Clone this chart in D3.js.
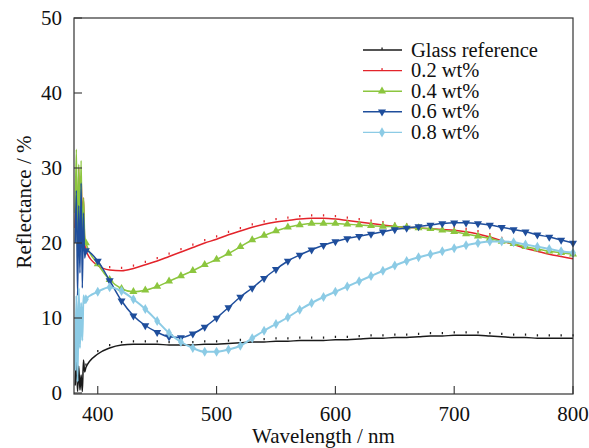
<!DOCTYPE html>
<html>
  <head>
    <style>
    body { margin: 0; background: #fff; }
    </style>
  </head>
  <body>

    <svg width="589" height="448" font-family="'Liberation Serif', 'DejaVu Serif', serif"></svg>

    <script src="https://cdn.jsdelivr.net/npm/d3@7/dist/d3.min.js"></script>
    <script>

      // wavelength grid for the smooth part of the spectra (nm)
      const wavelengths = [390, 400, 410, 420, 430, 440, 450, 460, 470, 480, 490, 500, 510, 520,
        530, 540, 550, 560, 570, 580, 590, 600, 610, 620, 630, 640, 650, 660, 670, 680, 690,
        700, 710, 720, 730, 740, 750, 760, 770, 780, 790, 800]

      const glass = [3.4, 5.2, 6.0, 6.4, 6.5, 6.5, 6.5, 6.4, 6.4, 6.4, 6.5, 6.5, 6.6, 6.7,
        6.8, 6.8, 6.9, 6.9, 7.0, 7.0, 7.0, 7.1, 7.1, 7.2, 7.3, 7.3, 7.4, 7.4, 7.5, 7.6, 7.6,
        7.7, 7.7, 7.7, 7.6, 7.5, 7.4, 7.4, 7.3, 7.3, 7.3, 7.3]
      const wt02 = [19.0, 17.0, 16.4, 16.3, 16.6, 17.1, 17.6, 18.2, 18.8, 19.4, 20.0, 20.5, 21.1, 21.6,
        22.1, 22.5, 22.8, 23.0, 23.2, 23.3, 23.3, 23.2, 23.0, 22.8, 22.6, 22.4, 22.2, 22.1, 22.0, 21.9, 21.8,
        21.7, 21.5, 21.2, 20.8, 20.3, 19.8, 19.3, 18.9, 18.5, 18.2, 17.9]
      const wt04 = [20.0, 17.2, 15.1, 13.9, 13.5, 13.7, 14.2, 14.9, 15.6, 16.3, 17.1, 17.8, 18.6, 19.5,
        20.4, 21.0, 21.6, 22.1, 22.4, 22.6, 22.6, 22.6, 22.5, 22.4, 22.3, 22.2, 22.2, 22.1, 22.0, 21.9, 21.7,
        21.5, 21.2, 20.9, 20.6, 20.2, 19.9, 19.5, 19.2, 18.9, 18.7, 18.5]
      const wt06 = [19.0, 17.6, 15.0, 12.3, 10.3, 9.0, 8.1, 7.5, 7.4, 7.9, 8.8, 10.0, 11.4, 12.8,
        14.0, 15.3, 16.5, 17.6, 18.4, 19.1, 19.7, 20.2, 20.6, 20.9, 21.2, 21.5, 21.8, 22.0, 22.2, 22.4, 22.6,
        22.7, 22.7, 22.6, 22.4, 22.1, 21.8, 21.5, 21.1, 20.8, 20.4, 20.0]
      const wt08 = [12.5, 13.5, 14.1, 13.6, 12.5, 11.2, 9.6, 8.0, 6.8, 6.0, 5.5, 5.5, 5.8, 6.3,
        7.3, 8.3, 9.2, 10.1, 11.1, 12.0, 12.8, 13.5, 14.2, 14.9, 15.6, 16.3, 17.0, 17.6, 18.1, 18.5, 18.9,
        19.3, 19.7, 20.0, 20.2, 20.2, 20.1, 19.8, 19.5, 19.2, 18.9, 18.7]

      // noisy detector start-up region
      const noiseWl = [381, 382, 383, 384, 385, 386, 387, 388, 389]
      const glassNoise = [1.0, 4.5, 0.2, 3.6, 0.4, 2.4, 0.2, 4.4, 2.8]
      const wt02Noise = [22, 28.5, 20, 30, 21, 29, 22, 26, 20]
      const wt04Noise = [24, 32.5, 18, 30.5, 22, 31, 19, 26, 21]
      const wt06Noise = [20, 27, 13, 25, 16, 28, 14, 24, 18]
      const wt08Noise = [3, 13, 1.5, 14, 6, 12, 7, 13, 12]

      const names = ['Glass reference', '0.2 wt%', '0.4 wt%', '0.6 wt%', '0.8 wt%']
      const xTicks = [400, 500, 600, 700, 800]
      const yTicks = [0, 10, 20, 30, 40, 50]

      const series = [
        { name: names[0], values: glass, noise: glassNoise, color: '#1a1a1a', marker: 'tick' },
        { name: names[1], values: wt02, noise: wt02Noise, color: '#e3242b', marker: 'tick' },
        { name: names[2], values: wt04, noise: wt04Noise, color: '#8cc63f', marker: 'up' },
        { name: names[3], values: wt06, noise: wt06Noise, color: '#1f4e9c', marker: 'down' },
        { name: names[4], values: wt08, noise: wt08Noise, color: '#8ccbe5', marker: 'diamond' }
      ]

      const svg = d3.select('svg')
      const plotL = 74, plotR = 573, plotT = 18, plotB = 393

      const x = d3.scaleLinear().domain([380, 800]).range([plotL, plotR])
      const y = d3.scaleLinear().domain([0, 50]).range([plotB, plotT])

      const line = d3.line()
          .x(d => x(d[0]))
          .y(d => y(d[1]))
          .curve(d3.curveMonotoneX)

      const plot = svg.append('g')

      function drawMarker(g, type, color, px, py) {
        if (type === 'tick') {
          g.append('rect')
            .attr('x', px - 0.6).attr('y', py - 4)
            .attr('width', 1.3).attr('height', 2.2)
            .attr('fill', color)
        } else if (type === 'diamond') {
          g.append('path')
            .attr('d', d3.symbol().type(d3.symbolDiamond).size(30)())
            .attr('transform', 'translate(' + px + ',' + py + ')')
            .attr('fill', color)
        } else {
          g.append('path')
            .attr('d', d3.symbol().type(d3.symbolTriangle).size(28)())
            .attr('transform', 'translate(' + px + ',' + py + ')' + (type === 'down' ? ' rotate(180)' : ''))
            .attr('fill', color)
        }
      }

      series.forEach(s => {
        const pts = noiseWl.map((w, i) => [w, s.noise[i]])
          .concat(wavelengths.map((w, i) => [w, s.values[i]]))
        const g = plot.append('g')
        g.append('path')
          .attr('d', line(pts))
          .attr('fill', 'none')
          .attr('stroke', s.color)
          .attr('stroke-width', s.marker === 'diamond' ? 2 : 1.5)
        wavelengths.forEach((w, i) => drawMarker(g, s.marker, s.color, x(w), y(s.values[i])))
      })

      // frame
      svg.append('rect')
        .attr('x', plotL).attr('y', plotT)
        .attr('width', plotR - plotL).attr('height', plotB - plotT + 1)
        .attr('fill', 'none').attr('stroke', '#333').attr('stroke-width', 1.2)

      // inward ticks
      svg.append('g').selectAll('line').data(xTicks).enter().append('line')
        .attr('x1', d => x(d)).attr('x2', d => x(d))
        .attr('y1', plotB + 1).attr('y2', plotB - 7)
        .attr('stroke', '#333').attr('stroke-width', 1.1)
      svg.append('g').selectAll('line').data(yTicks).enter().append('line')
        .attr('x1', plotL).attr('x2', plotL + 8)
        .attr('y1', d => y(d)).attr('y2', d => y(d))
        .attr('stroke', '#333').attr('stroke-width', 1.1)

      svg.append('g').selectAll('text').data(xTicks).enter().append('text')
        .attr('x', d => x(d)).attr('y', 421)
        .attr('text-anchor', 'middle')
        .attr('font-size', 21)
        .attr('fill', '#111')
        .text(d => d)
      svg.append('g').selectAll('text').data(yTicks).enter().append('text')
        .attr('x', 62).attr('y', d => y(d) + 7)
        .attr('text-anchor', 'end')
        .attr('font-size', 21)
        .attr('fill', '#111')
        .text(d => d)

      svg.append('text')
        .attr('x', (plotL + plotR) / 2).attr('y', 443)
        .attr('text-anchor', 'middle')
        .attr('font-size', 21)
        .attr('fill', '#111')
        .text('Wavelength / nm')
      svg.append('text')
        .attr('transform', 'translate(31,' + 202 + ') rotate(-90)')
        .attr('text-anchor', 'middle')
        .attr('font-size', 21)
        .attr('fill', '#111')
        .text('Reflectance / %')

      // legend
      const legend = svg.append('g')
      series.forEach((s, i) => {
        const ly = 50 + i * 20.6
        legend.append('line')
          .attr('x1', 363).attr('x2', 402)
          .attr('y1', ly).attr('y2', ly)
          .attr('stroke', s.color).attr('stroke-width', 1.4)
        drawMarker(legend, s.marker, s.color, 382, s.marker === 'tick' ? ly + 1.5 : ly)
        legend.append('text')
          .attr('x', 411).attr('y', ly + 6.5)
          .attr('font-size', 20.5)
          .attr('fill', '#111')
          .text(s.name)
      })

    </script>
  </body>
</html>
